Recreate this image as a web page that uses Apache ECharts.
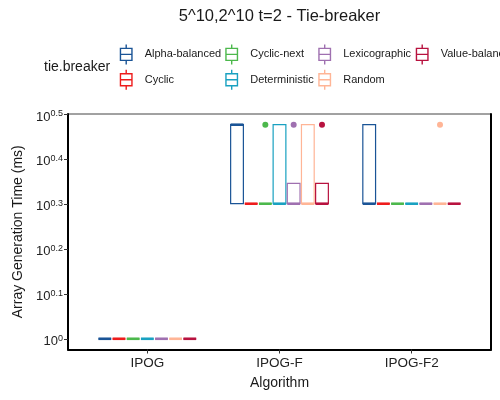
<!DOCTYPE html>
<html>
<head>
<meta charset="utf-8">
<script src="https://cdn.jsdelivr.net/npm/echarts@6/dist/echarts.min.js"></script>
<style>
html,body{margin:0;padding:0;background:#fff;}
#chart{width:500px;height:400px;}
</style>
</head>
<body>
<div id="chart"></div>
<script>
// ---- data ----
const algorithms = ['IPOG', 'IPOG-F', 'IPOG-F2'];
const tieBreakers = ['Alpha-balanced', 'Cyclic', 'Cyclic-next', 'Deterministic', 'Lexicographic', 'Random', 'Value-balanced'];
const colors = ['#1a5496', '#ee1c1c', '#4cb84c', '#19a1c1', '#9f70b0', '#ffb596', '#b8123f'];
// box statistics per algorithm: [min, Q1, median, Q3, max] (ms)
const boxAlphaBalanced = [[1, 1, 1, 1, 1], [2, 2, 3, 3, 3], [2, 2, 2, 3, 3]];
const boxCyclic = [[1, 1, 1, 1, 1], [2, 2, 2, 2, 2], [2, 2, 2, 2, 2]];
const boxCyclicNext = [[1, 1, 1, 1, 1], [2, 2, 2, 2, 2], [2, 2, 2, 2, 2]];
const boxDeterministic = [[1, 1, 1, 1, 1], [2, 2, 2, 3, 3], [2, 2, 2, 2, 2]];
const boxLexicographic = [[1, 1, 1, 1, 1], [2, 2, 2, 2.22, 2.22], [2, 2, 2, 2, 2]];
const boxRandom = [[1, 1, 1, 1, 1], [2, 2, 2, 3, 3], [2, 2, 2, 2, 2]];
const boxValueBalanced = [[1, 1, 1, 1, 1], [2, 2, 2, 2.22, 2.22], [2, 2, 2, 2, 2]];
// outliers: [algorithm index, value]
const outAlphaBalanced = [];
const outCyclic = [];
const outCyclicNext = [[1, 3]];
const outDeterministic = [];
const outLexicographic = [[1, 3]];
const outRandom = [[2, 3]];
const outValueBalanced = [[1, 3]];
// y tick labels (exponents of 10)
const yTickExponents = [0, 0.1, 0.2, 0.3, 0.4, 0.5];
const yTickLabels = ['0', '0.1', '0.2', '0.3', '0.4', '0.5'];

const boxes = [boxAlphaBalanced, boxCyclic, boxCyclicNext, boxDeterministic, boxLexicographic, boxRandom, boxValueBalanced];
const outliers = [outAlphaBalanced, outCyclic, outCyclicNext, outDeterministic, outLexicographic, outRandom, outValueBalanced];

// ---- layout helpers ----
const nGroups = tieBreakers.length;
const dodgeWidth = 0.75;
const slot = dodgeWidth / nGroups;
const boxFrac = 0.9;
const FONT = 'Liberation Sans';

function groupX(catIdx, g) {
  return catIdx + (g - (nGroups - 1) / 2) * slot;
}

function boxRender(g) {
  return function (params, api) {
    const cx = groupX(api.value(0), g);
    const half = slot * boxFrac / 2;
    const pMin = api.coord([cx, api.value(1)]);
    const pQ1L = api.coord([cx - half, api.value(2)]);
    const pMed = api.coord([cx - half, api.value(3)]);
    const pQ3R = api.coord([cx + half, api.value(4)]);
    const pMax = api.coord([cx, api.value(5)]);
    const c = colors[g];
    const lw = 1.2;
    return {
      type: 'group',
      children: [
        { type: 'line', shape: { x1: pMin[0], y1: pQ1L[1], x2: pMin[0], y2: pMin[1] }, style: { stroke: c, lineWidth: lw } },
        { type: 'line', shape: { x1: pMax[0], y1: pQ3R[1], x2: pMax[0], y2: pMax[1] }, style: { stroke: c, lineWidth: lw } },
        { type: 'rect', shape: { x: pQ1L[0], y: pQ3R[1], width: pQ3R[0] - pQ1L[0], height: pQ1L[1] - pQ3R[1] }, style: { fill: '#fff', stroke: c, lineWidth: lw } },
        { type: 'line', shape: { x1: pQ1L[0], y1: pMed[1], x2: pQ3R[0], y2: pMed[1] }, style: { stroke: c, lineWidth: 2.6 } }
      ]
    };
  };
}

function outlierRender(g) {
  return function (params, api) {
    const p = api.coord([groupX(api.value(0), g), api.value(1)]);
    return { type: 'circle', shape: { cx: p[0], cy: p[1], r: 3 }, style: { fill: colors[g] } };
  };
}

const series = [];
tieBreakers.forEach(function (name, g) {
  series.push({
    name: name, type: 'custom', renderItem: boxRender(g),
    itemStyle: { color: colors[g] },
    data: boxes[g].map(function (b, i) { return [i].concat(b); })
  });
  series.push({
    name: name, type: 'custom', renderItem: outlierRender(g),
    itemStyle: { color: colors[g] },
    data: outliers[g]
  });
});

// boxplot glyph, bounding box padded to the full 27x20 legend key
const glyph = 'path://M0,0 M27,20 M7.75,4 L19.25,4 L19.25,16 L7.75,16 Z M7.75,10 L19.25,10 M13.5,0 L13.5,4 M13.5,16 L13.5,20';
const legendCols = [[0, 1], [2, 3], [4, 5], [6]];
const legendLefts = [112, 217.5, 310.5, 408];
const legends = legendCols.map(function (col, i) {
  return {
    orient: 'vertical', left: legendLefts[i], top: 43.7, padding: 0,
    itemWidth: 27, itemHeight: 20, itemGap: 4, selectedMode: false,
    textStyle: { fontSize: 11, color: '#1a1a1a', fontFamily: FONT },
    data: col.map(function (j) {
      return { name: tieBreakers[j], icon: glyph, itemStyle: { color: '#fff', borderColor: colors[j], borderWidth: 1.4 } };
    })
  };
});

const chart = echarts.init(document.getElementById('chart'));
chart.setOption({
  animation: false,
  backgroundColor: '#fff',
  textStyle: { fontFamily: FONT },
  graphic: [
    { type: 'text', x: 279.5, y: 16, style: { text: '5^10,2^10 t=2 - Tie-breaker', fontSize: 16.5, fontFamily: FONT, fill: '#1a1a1a', align: 'center', verticalAlign: 'middle' } },
    { type: 'text', x: 44, y: 67, style: { text: 'tie.breaker', fontSize: 14, fontFamily: FONT, fill: '#1a1a1a', align: 'left', verticalAlign: 'middle' } }
  ],
  legend: legends,
  grid: { left: 68, right: 9, top: 114, bottom: 50.5, show: true, borderColor: '#444', borderWidth: 1, backgroundColor: '#fff' },
  xAxis: {
    type: 'value', min: -0.6, max: 2.6,
    name: 'Algorithm', nameLocation: 'middle', nameGap: 27,
    nameTextStyle: { fontSize: 14, color: '#1a1a1a', fontFamily: FONT },
    splitLine: { show: false },
    axisLine: { show: true, onZero: false, lineStyle: { color: '#000', width: 2 } },
    axisTick: { show: true, length: 4, customValues: [0, 1, 2], lineStyle: { color: '#333' } },
    axisLabel: { customValues: [0, 1, 2], margin: 7, fontSize: 13.5, color: '#222', fontFamily: FONT,
      formatter: function (v) { return algorithms[Math.round(v)]; } }
  },
  yAxis: [{
    type: 'log', logBase: 10,
    min: Math.pow(10, -0.0239), max: Math.pow(10, 0.501),
    name: 'Array Generation Time (ms)', nameLocation: 'middle', nameGap: 43,
    nameTextStyle: { fontSize: 14, color: '#1a1a1a', fontFamily: FONT },
    splitLine: { show: false },
    axisLine: { show: true, onZero: false, lineStyle: { color: '#000', width: 2 } },
    axisTick: { show: true, length: 4, customValues: yTickExponents.map(function (e) { return Math.pow(10, e); }), lineStyle: { color: '#333' } },
    axisLabel: {
      customValues: yTickExponents.map(function (e) { return Math.pow(10, e); }),
      margin: 5, color: '#222', fontFamily: FONT, padding: [5, 0, 0, 0],
      formatter: function (v) {
        const e = Math.log10(v);
        let idx = 0, best = Infinity;
        yTickExponents.forEach(function (x, k) { if (Math.abs(x - e) < best) { best = Math.abs(x - e); idx = k; } });
        return '{b|10}{s|' + yTickLabels[idx] + '}';
      },
      rich: {
        b: { fontSize: 13, lineHeight: 13, verticalAlign: 'bottom', color: '#222', fontFamily: FONT },
        s: { fontSize: 9, lineHeight: 9, padding: [0, 0, 6, 0], color: '#222', fontFamily: FONT }
      }
    }
  }, {
    type: 'value', position: 'right', min: 0, max: 1,
    axisLine: { show: true, onZero: false, lineStyle: { color: '#000', width: 2 } },
    axisTick: { show: false }, axisLabel: { show: false }, splitLine: { show: false }
  }],
  series: series
});
</script>
</body>
</html>
